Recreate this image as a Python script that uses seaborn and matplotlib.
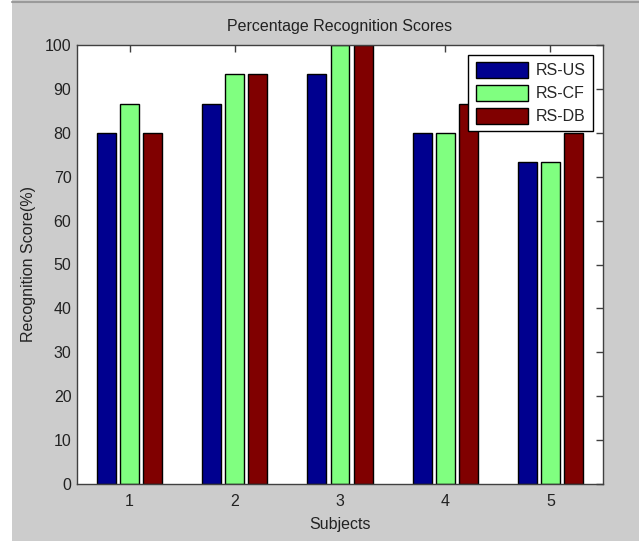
import pandas as pd
import matplotlib
matplotlib.use("Agg")
import matplotlib.pyplot as plt
import seaborn as sns
from matplotlib.patches import Rectangle
from matplotlib.lines import Line2D

# data
subjects = ["1", "2", "3", "4", "5"]
rs_us = [80.0, 86.67, 93.33, 80.0, 73.33]
rs_cf = [86.67, 93.33, 100.0, 80.0, 73.33]
rs_db = [80.0, 93.33, 100.0, 86.67, 80.0]
series_names = ["RS-US", "RS-CF", "RS-DB"]
series_colors = ["#00008f", "#80ff80", "#800000"]
y_ticks = list(range(0, 101, 10))

df = pd.DataFrame({
    "subject": subjects * 3,
    "score": rs_us + rs_cf + rs_db,
    "series": [s for s in series_names for _ in subjects],
})

sns.set_style("white")
plt.rcParams["font.family"] = ["Liberation Sans", "DejaVu Sans"]
plt.rcParams["font.size"] = 11

fig = plt.figure(figsize=(6.39, 5.41), dpi=100, facecolor="#cccccc")
ax = fig.add_axes([77 / 639, 1 - 484 / 541, (603 - 77) / 639, (484 - 45) / 541])
ax.set_facecolor("white")

sns.barplot(
    data=df, x="subject", y="score", hue="series",
    order=subjects, hue_order=series_names,
    palette=series_colors, width=0.66, gap=0.18,
    edgecolor="black", linewidth=1.0, saturation=1, errorbar=None, ax=ax,
)

# left white strip and top border like the screenshot
fig.patches.append(Rectangle((0, 0), 12 / 639, 1, transform=fig.transFigure,
                             facecolor="white", edgecolor="none", zorder=-1))
fig.lines.append(Line2D([12 / 639, 1], [1 - 1.5 / 541, 1 - 1.5 / 541],
                        transform=fig.transFigure, color="#9a9a9a", lw=1.5))

ax.set_xlim(-0.5, 4.5)
ax.set_ylim(0, 100)
ax.set_yticks(y_ticks)
ax.set_title("Percentage Recognition Scores", fontsize=11.5, pad=10, color="#222222")
ax.set_xlabel("Subjects", fontsize=11.5, labelpad=6, color="#222222")
ax.set_ylabel("Recognition Score(%)", fontsize=11.5, labelpad=6, color="#222222")

ax.tick_params(axis="both", direction="in", length=5, width=1, color="#404040",
               top=True, right=True, labelsize=11.5, labelcolor="#222222")
ax.tick_params(axis="x", pad=7)
ax.tick_params(axis="y", pad=4)
for sp in ax.spines.values():
    sp.set_visible(True)
    sp.set_color("#404040")
    sp.set_linewidth(1.0)

leg = ax.legend(loc="upper right", frameon=True, fancybox=False, fontsize=11.5,
                handlelength=3.3, handleheight=1.2, labelspacing=0.4,
                borderaxespad=0.6, borderpad=0.45, handletextpad=0.5)
leg.get_frame().set_edgecolor("black")
leg.get_frame().set_linewidth(1.0)
leg.get_frame().set_facecolor("white")
leg.get_frame().set_alpha(1)

fig.savefig("out.png", dpi=100, facecolor=fig.get_facecolor())
